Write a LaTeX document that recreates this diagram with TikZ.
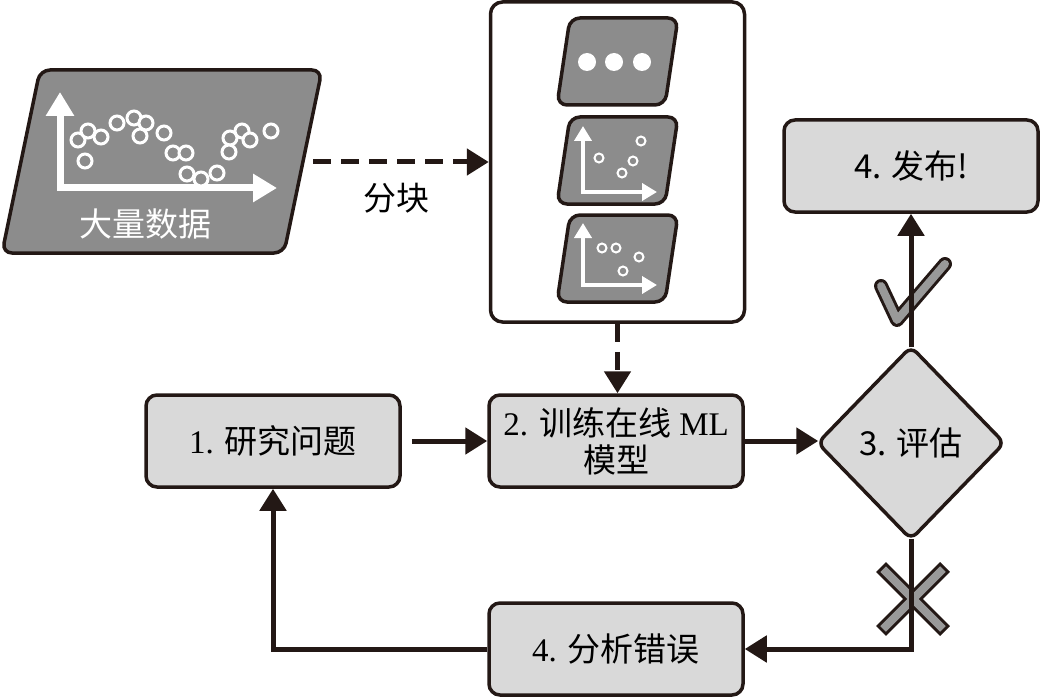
\documentclass[tikz,border=0pt]{standalone}
\usepackage{fontspec}
\setmainfont{Liberation Serif}
\newfontfamily\cjk{Noto Sans CJK SC}
\usetikzlibrary{arrows.meta,shapes.geometric}
\definecolor{ink}{HTML}{231815}
\definecolor{boxgray}{HTML}{D9D9D9}
\definecolor{midgray}{HTML}{8C8C8C}
\definecolor{markgray}{HTML}{999999}
\begin{document}
\begin{tikzpicture}[x=1pt,y=-1pt,
  every node/.style={font=\fontsize{33}{40}\selectfont},
  box/.style={draw=ink, fill=boxgray, line width=3.5pt, rounded corners=11pt,
    minimum width=254pt, minimum height=92pt, inner sep=0pt, align=center},
  conn/.style={draw=ink, line width=5pt, -{Triangle[length=22pt,width=26pt]}},
  dconn/.style={conn, dash pattern=on 18pt off 10pt},
  para/.style={draw=ink, fill=midgray, line width=3.5pt, rounded corners=10pt},
  bigaxis/.style={white, line width=7pt, miter limit=10,
    {Triangle[length=24pt,width=27pt]}-{Triangle[length=24pt,width=27pt]}},
  smallaxis/.style={white, line width=4.5pt,
    {Triangle[length=15pt,width=17pt]}-{Triangle[length=15pt,width=17pt]}},
  bigdot/.style={draw=white, line width=3pt, fill=midgray},
  smalldot/.style={draw=white, line width=2pt, fill=midgray},
  markout/.style={draw=ink, line width=14pt},
  markin/.style={draw=markgray, line width=8pt},
]
\useasboundingbox (0,0) rectangle (1042,698);

% big data parallelogram
\draw[para] (40,70) -- (322,70) -- (284,253) -- (2,253) -- cycle;
\draw[bigaxis] (60,92) -- (60,188) -- (277,188);
\foreach \x/\y in {78/140,88/131,101/137,85/161,117/123,134/118,146/123,140/136,
  164/133,173/153,186/153,187/174,201/179,217/173,230/138,242/131,250/140,229/152,271/131}
  \draw[bigdot] (\x,\y) circle[radius=7pt];
\node[white] (datalbl) at (145,224) {\cjk 大量数据};
\coordinate (dataout) at (313,162);

% chunk container
\node[draw=ink, fill=white, line width=3.5pt, rounded corners=12pt,
  minimum width=254pt, minimum height=320pt, inner sep=0pt] (chunk) at (617.5,162) {};
\foreach \t in {18,117,215}
  \draw[para] (570,\t) -- (678,\t) -- (665,\t+87) -- (557,\t+87) -- cycle;
\foreach \x in {587,614,642}
  \fill[white] (\x,62) circle[radius=9pt];
\draw[smallaxis] (583,126) -- (583,192) -- (657,192);
\draw[smallaxis] (583,223) -- (583,285) -- (657,285);
\foreach \x/\y in {599/158,641/141,633/161,622/173,602/248,616/248,639/257,623/271}
  \draw[smalldot] (\x,\y) circle[radius=4.5pt];
\node (chunklbl) at (396,198) {\cjk 分块};

% process nodes
\node[box] (n1) at (273,441) {1. {\cjk 研究问题}};
\node[box] (n2) at (616,441) {2. {\cjk 训练在线} ML\\[-3pt]{\cjk 模型}};
\node[box] (n4) at (616,649) {4. {\cjk 分析错误}};
\node[box] (pub) at (911,166) {\cjk 4. 发布!};
\node[diamond, draw=ink, fill=boxgray, line width=3.5pt, rounded corners=8pt,
  minimum width=188pt, minimum height=194pt, inner sep=0pt] (d) at (911,443) {\cjk 3. 评估};

% check and cross marks
\draw[markout, line cap=round, line join=round] (881,286) -- (897,320) -- (945,264);
\draw[markin, line cap=round, line join=round] (881,286) -- (897,320) -- (945,264);
\draw[markout] (881,567) -- (945,631);
\draw[markout] (881,631) -- (945,567);
\draw[markin, shorten <=3pt, shorten >=3pt] (881,567) -- (945,631);
\draw[markin, shorten <=3pt, shorten >=3pt] (881,631) -- (945,567);

% connectors
\draw[dconn] (dataout) -- (chunk.west);
\draw[dconn] (chunk.south) -- (chunk.south |- n2.north);
\draw[conn, shorten <=10pt] (n1.east) -- (n2.west);
\draw[conn, shorten >=-3pt] (n2.east) -- (d.west |- n2.east);
\draw[conn, shorten <=-3pt] (d.north) -- (pub.south);
\draw[conn, shorten <=-3pt] (d.south) |- (n4.east);
\draw[conn] (n4.west) -| (n1.south);
\end{tikzpicture}
\end{document}
